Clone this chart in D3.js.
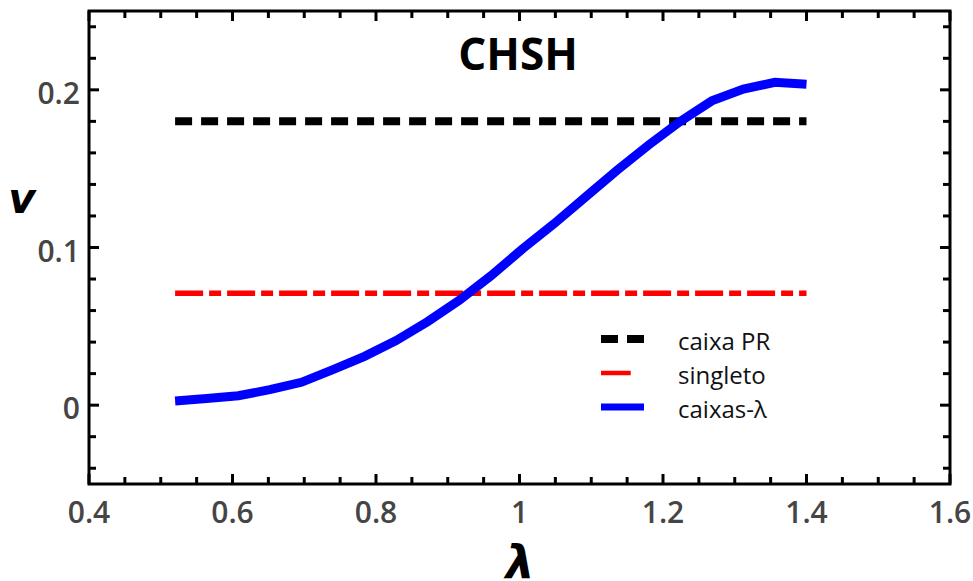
<!DOCTYPE html>
<html>
<head>
<meta charset="utf-8">
<script src="https://cdn.jsdelivr.net/npm/d3@7"></script>
<style>
  html, body { margin: 0; padding: 0; background: #fff; }
  svg { display: block; }
</style>
</head>
<body>
<svg id="chart" width="973" height="581"></svg>
<script>
// λ values and the CHSH violation v for the λ-boxes
const lambdas = [0.52, 0.564, 0.608, 0.652, 0.696, 0.74, 0.784, 0.828, 0.872, 0.916,
                 0.96, 1.004, 1.048, 1.092, 1.136, 1.18, 1.224, 1.268, 1.312, 1.356, 1.40];
const caixasLambda = [0.0027, 0.0042, 0.006, 0.0098, 0.0145, 0.0225, 0.031, 0.041, 0.053, 0.0665,
                      0.082, 0.099, 0.115, 0.132, 0.149, 0.165, 0.18, 0.193, 0.2005, 0.2048, 0.2035];
// constant reference levels over the same λ range
const lambdaRange = [0.52, 1.40];
const caixaPR = 0.18;
const singleto = 0.071;

const xTickLabels = [0.4, 0.6, 0.8, 1, 1.2, 1.4, 1.6];
const yTickLabels = [0, 0.1, 0.2];
const seriesNames = ["caixa PR", "singleto", "caixas-λ"];
const titleText = "CHSH";

(function () {
  const svg = d3.select("#chart");
  const pLeft = 89, pRight = 950, pTop = 11, pBottom = 484;

  const x = d3.scaleLinear().domain([0.4, 1.6]).range([pLeft, pRight]);
  const y = d3.scaleLinear().domain([-0.05, 0.25]).range([pBottom, pTop]);

  const tickFont = "'Open Sans', 'DejaVu Sans', sans-serif";

  // minor / major ticks on all four sides, pointing inward
  const xTicks = d3.range(0.4, 1.6 + 1e-9, 0.05);
  const yTicks = d3.range(-0.04, 0.24 + 1e-9, 0.02);
  const isMajorX = v => Math.abs(v / 0.2 - Math.round(v / 0.2)) < 1e-6;
  const isMajorY = v => Math.abs(v / 0.1 - Math.round(v / 0.1)) < 1e-6;

  const ticks = svg.append("g").attr("stroke", "#000").attr("stroke-width", 3);
  xTicks.forEach(v => {
    const len = isMajorX(v) ? 10 : 7;
    ticks.append("line").attr("x1", x(v)).attr("x2", x(v)).attr("y1", pBottom).attr("y2", pBottom - len);
    ticks.append("line").attr("x1", x(v)).attr("x2", x(v)).attr("y1", pTop).attr("y2", pTop + len);
  });
  yTicks.forEach(v => {
    const len = isMajorY(v) ? 10 : 7;
    ticks.append("line").attr("y1", y(v)).attr("y2", y(v)).attr("x1", pLeft).attr("x2", pLeft + len);
    ticks.append("line").attr("y1", y(v)).attr("y2", y(v)).attr("x1", pRight).attr("x2", pRight - len);
  });

  // tick labels
  const fmt = v => String(+v.toFixed(2));
  svg.append("g").selectAll("text").data(xTickLabels).join("text")
    .attr("x", d => x(d)).attr("y", 523)
    .attr("text-anchor", "middle")
    .attr("font-family", tickFont).attr("font-weight", 600).attr("font-size", 30)
    .attr("fill", "#454545")
    .text(fmt);
  svg.append("g").selectAll("text").data(yTickLabels).join("text")
    .attr("x", 80).attr("y", d => y(d) + 14)
    .attr("text-anchor", "end")
    .attr("font-family", tickFont).attr("font-weight", 600).attr("font-size", 30)
    .attr("fill", "#454545")
    .text(fmt);

  // reference levels
  svg.append("line")
    .attr("x1", x(lambdaRange[0])).attr("x2", x(lambdaRange[1]))
    .attr("y1", y(caixaPR)).attr("y2", y(caixaPR))
    .attr("stroke", "#000").attr("stroke-width", 8)
    .attr("stroke-dasharray", "17,9");
  svg.append("line")
    .attr("x1", x(lambdaRange[0])).attr("x2", x(lambdaRange[1]))
    .attr("y1", y(singleto)).attr("y2", y(singleto))
    .attr("stroke", "#ff0000").attr("stroke-width", 5.5)
    .attr("stroke-dasharray", "28,6,12,6");

  // λ-box curve
  const line = d3.line().x(d => x(d[0])).y(d => y(d[1]));
  svg.append("path")
    .datum(lambdas.map((l, i) => [l, caixasLambda[i]]))
    .attr("d", line)
    .attr("fill", "none")
    .attr("stroke", "#0000ff").attr("stroke-width", 9)
    .attr("stroke-linejoin", "miter");

  // frame
  svg.append("rect")
    .attr("x", pLeft).attr("y", pTop).attr("width", pRight - pLeft).attr("height", pBottom - pTop)
    .attr("fill", "none").attr("stroke", "#000").attr("stroke-width", 3);

  // title
  svg.append("text")
    .attr("x", 518).attr("y", 70)
    .attr("text-anchor", "middle")
    .attr("font-family", tickFont).attr("font-weight", 700).attr("font-size", 44)
    .attr("fill", "#000")
    .text(titleText);

  // axis titles
  svg.append("text")
    .attr("x", 22).attr("y", 213)
    .attr("text-anchor", "middle")
    .attr("font-family", "'DejaVu Sans', sans-serif").attr("font-weight", 700).attr("font-style", "italic")
    .attr("font-size", 42)
    .attr("fill", "#000")
    .text("v");
  svg.append("text")
    .attr("x", 520).attr("y", 578)
    .attr("text-anchor", "middle")
    .attr("font-family", "'DejaVu Sans', sans-serif").attr("font-weight", 700).attr("font-style", "italic")
    .attr("font-size", 46)
    .attr("fill", "#000")
    .text("λ");

  // legend
  const legend = svg.append("g");
  const legendRows = [
    {name: seriesNames[0], color: "#000", width: 8, dash: "17,9", x2: 644},
    {name: seriesNames[1], color: "#ff0000", width: 4.5, dash: null, x2: 630.7},
    {name: seriesNames[2], color: "#0000ff", width: 7, dash: null, x2: 644}
  ];
  legendRows.forEach((r, i) => {
    const cy = 339 + i * 34;
    legend.append("line")
      .attr("x1", 601).attr("x2", r.x2).attr("y1", cy).attr("y2", cy)
      .attr("stroke", r.color).attr("stroke-width", r.width)
      .attr("stroke-dasharray", r.dash);
    legend.append("text")
      .attr("x", 678).attr("y", cy + 11)
      .attr("font-family", tickFont).attr("font-weight", 500).attr("font-size", 24)
      .attr("fill", "#111")
      .text(r.name);
  });
})();
</script>
</body>
</html>
